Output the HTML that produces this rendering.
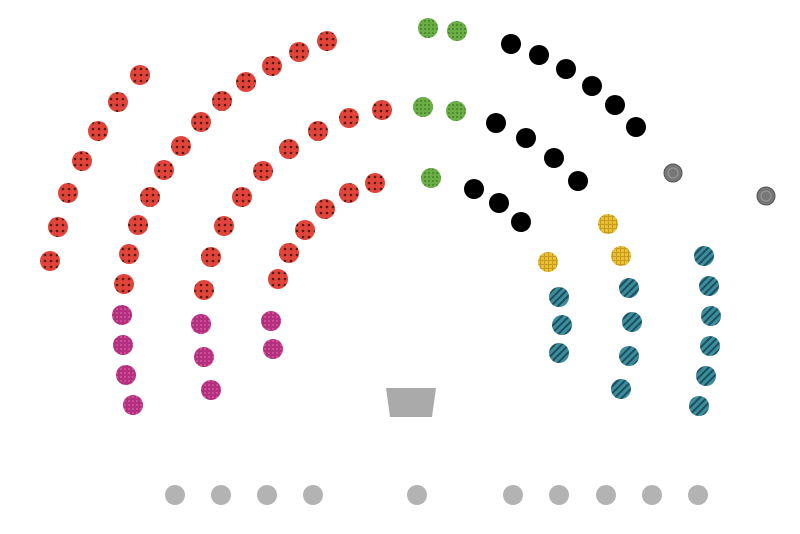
<!DOCTYPE html>
<html><head><meta charset="utf-8"><style>html,body{margin:0;padding:0;background:#fff;}svg{display:block}</style></head>
<body>
<svg width="800" height="534" viewBox="0 0 800 534" xmlns="http://www.w3.org/2000/svg">
<defs>
<pattern id="pr" width="6" height="6" patternUnits="userSpaceOnUse"><rect width="6" height="6" fill="#e0443a"/><circle cx="3" cy="3" r="1.3" fill="#5a1a10"/></pattern>
<pattern id="pm" width="4" height="4" patternUnits="userSpaceOnUse"><rect width="4" height="4" fill="#b2307e"/><rect width="2" height="2" fill="#d04a98"/></pattern>
<pattern id="pg" width="4" height="4" patternUnits="userSpaceOnUse"><rect width="4" height="4" fill="#6aae45"/><rect width="2" height="2" fill="#4f8e30"/></pattern>
<pattern id="pt" width="5" height="5" patternUnits="userSpaceOnUse" patternTransform="rotate(45)"><rect width="5" height="5" fill="#3b8ea0"/><rect width="2" height="5" fill="#1f4f5a"/></pattern>
<pattern id="py" width="4" height="4" patternUnits="userSpaceOnUse"><rect width="4" height="4" fill="#e8c034"/><rect width="1" height="4" fill="#c89a20"/><rect width="4" height="1" fill="#c89a20"/></pattern>
</defs>
<g fill="url(#pr)">
<circle cx="140" cy="75" r="10"/><circle cx="118" cy="102" r="10"/><circle cx="98" cy="131" r="10"/><circle cx="82" cy="161" r="10"/><circle cx="68" cy="193" r="10"/><circle cx="58" cy="227" r="10"/><circle cx="50" cy="261" r="10"/>
<circle cx="327" cy="41" r="10"/><circle cx="299" cy="52" r="10"/><circle cx="272" cy="66" r="10"/><circle cx="246" cy="82" r="10"/><circle cx="222" cy="101" r="10"/><circle cx="201" cy="122" r="10"/><circle cx="181" cy="146" r="10"/><circle cx="164" cy="170" r="10"/><circle cx="150" cy="197" r="10"/><circle cx="138" cy="225" r="10"/><circle cx="129" cy="254" r="10"/><circle cx="124" cy="284" r="10"/>
<circle cx="382" cy="110" r="10"/><circle cx="349" cy="118" r="10"/><circle cx="318" cy="131" r="10"/><circle cx="289" cy="149" r="10"/><circle cx="263" cy="171" r="10"/><circle cx="242" cy="197" r="10"/><circle cx="224" cy="226" r="10"/><circle cx="211" cy="257" r="10"/><circle cx="204" cy="290" r="10"/>
<circle cx="375" cy="183" r="10"/><circle cx="349" cy="193" r="10"/><circle cx="325" cy="209" r="10"/><circle cx="305" cy="230" r="10"/><circle cx="289" cy="253" r="10"/><circle cx="278" cy="279" r="10"/>
</g>
<g fill="url(#pm)">
<circle cx="122" cy="315" r="10"/><circle cx="123" cy="345" r="10"/><circle cx="126" cy="375" r="10"/><circle cx="133" cy="405" r="10"/>
<circle cx="201" cy="324" r="10"/><circle cx="204" cy="357" r="10"/><circle cx="211" cy="390" r="10"/>
<circle cx="271" cy="321" r="10"/><circle cx="273" cy="349" r="10"/>
</g>
<g fill="url(#pg)">
<circle cx="428" cy="28" r="10"/><circle cx="457" cy="31" r="10"/><circle cx="423" cy="107" r="10"/><circle cx="456" cy="111" r="10"/><circle cx="431" cy="178" r="10"/>
</g>
<g fill="#000">
<circle cx="511" cy="44" r="10"/><circle cx="539" cy="55" r="10"/><circle cx="566" cy="69" r="10"/><circle cx="592" cy="86" r="10"/><circle cx="615" cy="105" r="10"/><circle cx="636" cy="127" r="10"/>
<circle cx="496" cy="123" r="10"/><circle cx="526" cy="138" r="10"/><circle cx="554" cy="158" r="10"/><circle cx="578" cy="181" r="10"/>
<circle cx="474" cy="189" r="10"/><circle cx="499" cy="203" r="10"/><circle cx="521" cy="222" r="10"/>
</g>
<g fill="#777" stroke="#555" stroke-width="1">
<circle cx="673" cy="173" r="9"/><circle cx="766" cy="196" r="9"/>
</g>
<g fill="none" stroke="#999" stroke-width="1"><circle cx="673" cy="173" r="5"/><circle cx="766" cy="196" r="5"/></g>
<g fill="url(#py)">
<circle cx="608" cy="224" r="10"/><circle cx="621" cy="256" r="10"/><circle cx="548" cy="262" r="10"/>
</g>
<g fill="url(#pt)">
<circle cx="559" cy="297" r="10"/><circle cx="562" cy="325" r="10"/><circle cx="559" cy="353" r="10"/>
<circle cx="629" cy="288" r="10"/><circle cx="632" cy="322" r="10"/><circle cx="629" cy="356" r="10"/><circle cx="621" cy="389" r="10"/>
<circle cx="704" cy="256" r="10"/><circle cx="709" cy="286" r="10"/><circle cx="711" cy="316" r="10"/><circle cx="710" cy="346" r="10"/><circle cx="706" cy="376" r="10"/><circle cx="699" cy="406" r="10"/>
</g>
<polygon points="386,388 436,388 432,417 390,417" fill="#aaa"/>
<g fill="#b3b3b3">
<circle cx="175" cy="495" r="10"/><circle cx="221" cy="495" r="10"/><circle cx="267" cy="495" r="10"/><circle cx="313" cy="495" r="10"/><circle cx="417" cy="495" r="10"/><circle cx="513" cy="495" r="10"/><circle cx="559" cy="495" r="10"/><circle cx="606" cy="495" r="10"/><circle cx="652" cy="495" r="10"/><circle cx="698" cy="495" r="10"/>
</g>
</svg>
</body></html>
